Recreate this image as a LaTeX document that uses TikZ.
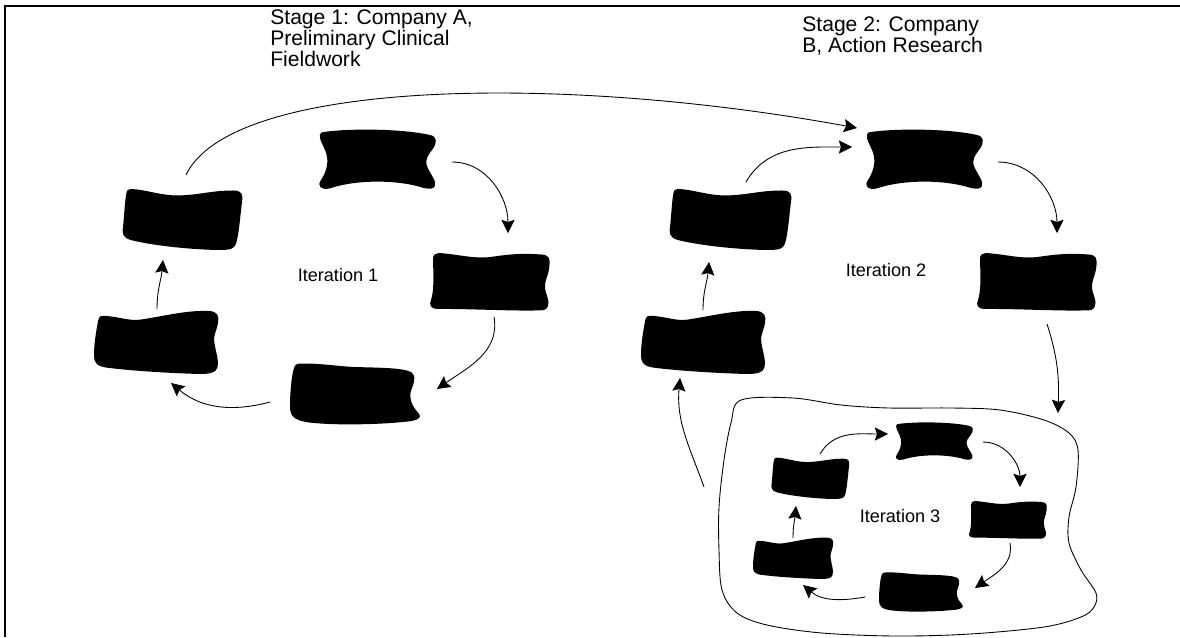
\documentclass[tikz,border=0pt]{standalone}
\usepackage{fontspec}
\setmainfont{Liberation Sans}
\usetikzlibrary{arrows.meta,calc}

\tikzset{
  blobbox/.style={inner sep=0pt,outer sep=0pt},
  flow/.style={-{Stealth[length=7.5pt,width=7.5pt,inset=1.2pt]},line width=0.5pt},
  stagetext/.style={anchor=north west,inner sep=0pt,align=left,font=\fontsize{12}{12}\selectfont},
  itertext/.style={inner sep=0pt,font=\fontsize{10.3}{12}\selectfont},
  % blob outlines, drawn in a unit box
  pinch/.pic={\fill (-0.9,0.9) .. controls (-0.5,1.02) and (0.4,1.02) .. (0.9,0.8)
      .. controls (1.02,0.75) and (1.02,0.55) .. (0.95,0.35)
      .. controls (0.88,0.15) and (0.8,0) .. (0.85,-0.25)
      .. controls (0.9,-0.5) and (1.02,-0.75) .. (0.98,-0.9)
      .. controls (0.96,-1) and (0.9,-1) .. (0.8,-0.97)
      .. controls (0.35,-0.68) and (-0.35,-0.68) .. (-0.8,-0.98)
      .. controls (-0.95,-1.05) and (-1.02,-0.9) .. (-0.95,-0.7)
      .. controls (-0.88,-0.5) and (-0.82,-0.2) .. (-0.85,0.1)
      .. controls (-0.88,0.4) and (-0.98,0.6) .. (-0.97,0.8)
      .. controls (-0.96,0.88) and (-0.94,0.9) .. (-0.9,0.9) -- cycle;},
  wave/.pic={\fill (-0.85,1) .. controls (-0.5,0.95) and (-0.3,0.8) .. (0,0.86)
      .. controls (0.3,0.95) and (0.5,1) .. (0.85,0.95)
      .. controls (1,0.93) and (1,0.8) .. (0.99,0.55)
      .. controls (0.98,0.2) and (0.88,0) .. (0.93,-0.35)
      .. controls (0.97,-0.6) and (1.02,-0.85) .. (0.9,-0.97)
      .. controls (0.5,-1.02) and (-0.3,-0.92) .. (-0.85,-0.93)
      .. controls (-1,-0.93) and (-1.02,-0.8) .. (-0.98,-0.6)
      .. controls (-0.92,-0.2) and (-0.95,0.5) .. (-0.95,0.8)
      .. controls (-0.95,0.95) and (-0.9,1) .. (-0.85,1) -- cycle;},
  skew/.pic={\fill (-0.85,0.97) .. controls (-0.6,0.95) and (-0.35,0.75) .. (-0.05,0.76)
      .. controls (0.3,0.78) and (0.5,0.92) .. (0.85,0.92)
      .. controls (1,0.92) and (1.02,0.8) .. (1,0.55)
      .. controls (0.97,0.1) and (0.95,-0.5) .. (0.9,-0.8)
      .. controls (0.87,-0.97) and (0.8,-1) .. (0.6,-1)
      .. controls (0.1,-0.98) and (-0.5,-0.85) .. (-0.85,-0.68)
      .. controls (-1,-0.6) and (-1,-0.45) .. (-0.98,-0.2)
      .. controls (-0.96,0.2) and (-0.95,0.6) .. (-0.93,0.8)
      .. controls (-0.92,0.93) and (-0.9,0.97) .. (-0.85,0.97) -- cycle;},
  flag/.pic={\fill (-0.85,0.82) .. controls (-0.6,0.8) and (-0.45,0.65) .. (-0.25,0.7)
      .. controls (0.1,0.8) and (0.5,1) .. (0.85,0.97)
      .. controls (1,0.96) and (1.02,0.8) .. (1,0.6)
      .. controls (0.98,0.35) and (0.92,0.2) .. (0.94,0)
      .. controls (0.96,-0.3) and (1.02,-0.55) .. (0.99,-0.8)
      .. controls (0.97,-0.97) and (0.85,-1) .. (0.7,-1)
      .. controls (0.2,-0.97) and (-0.4,-0.9) .. (-0.8,-0.8)
      .. controls (-0.98,-0.75) and (-1,-0.6) .. (-1,-0.4)
      .. controls (-1,0) and (-0.95,0.5) .. (-0.93,0.7)
      .. controls (-0.92,0.8) and (-0.9,0.82) .. (-0.85,0.82) -- cycle;},
  lump/.pic={\fill (-0.85,0.98) .. controls (-0.55,1) and (-0.3,0.9) .. (0,0.87)
      .. controls (0.35,0.85) and (0.75,0.85) .. (0.87,0.7)
      .. controls (0.95,0.6) and (0.9,0.3) .. (0.86,0.1)
      .. controls (0.83,-0.15) and (0.88,-0.4) .. (0.97,-0.6)
      .. controls (1.05,-0.78) and (0.95,-0.87) .. (0.75,-0.9)
      .. controls (0.4,-0.98) and (-0.3,-1.02) .. (-0.7,-0.92)
      .. controls (-0.95,-0.85) and (-1,-0.7) .. (-1,-0.4)
      .. controls (-1,0) and (-0.98,0.5) .. (-0.95,0.75)
      .. controls (-0.93,0.95) and (-0.9,0.98) .. (-0.85,0.98) -- cycle;}
}

% name, shape, x, y, half width, half height
\newcommand{\blob}[6]{%
  \node[blobbox,minimum width=0.04cm*#5,minimum height=0.04cm*#6] (#1) at (#3,-#4) {};
  \pic[xscale=#5,yscale=#6] at (#1) {#2};}

\begin{document}
\begin{tikzpicture}[x=0.02cm,y=0.02cm]
\useasboundingbox (0,0) rectangle (1180,-637);
\draw[line width=1.2pt] (5,-637) -- (5,-6) -- (1180,-6);

\node[stagetext] (stage1) at (270,-9.5) {Stage 1: Company A,\\Preliminary Clinical\\Fieldwork};
\node[stagetext] (stage2) at (802,-16.5) {Stage 2: Company\\B, Action Research};

% iteration 1
\blob{top1}{pinch}{377}{159}{59}{30}
\blob{rgt1}{wave}{490}{282}{60}{29}
\blob{bot1}{lump}{355}{394}{65}{31}
\blob{lfb1}{flag}{156}{342}{62}{32}
\blob{lft1}{skew}{182}{219}{60}{31}
\node[itertext] (iter1) at (338,-275) {Iteration 1};

% iteration 2
\blob{top2}{pinch}{924}{159}{59}{30}
\blob{rgt2}{wave}{1037}{282}{60}{29}
\blob{lft2}{skew}{730}{219}{61}{31}
\blob{lfb2}{flag}{703}{342}{62}{32}
\node[itertext] (iter2) at (886,-270) {Iteration 2};

% iteration 3, inside the cloud
\node[blobbox,minimum width=7.56cm,minimum height=4.8cm] (cloud3) at (907,-517) {};
\draw[line width=0.5pt] plot[smooth cycle,tension=0.55] coordinates {
  (741,-400) (793,-398) (841,-405) (889,-408) (952,-408) (1000,-410) (1044,-420)
  (1069,-433) (1078,-450) (1076,-487) (1069,-517) (1069,-543) (1081,-570)
  (1096,-593) (1094,-607) (1081,-617) (1044,-627) (970,-634) (896,-636)
  (822,-633) (767,-625) (737,-613) (722,-590) (719,-550) (719,-507)
  (724,-460) (731,-423)};
\blob{top3}{pinch}{934}{441}{39}{19}
\blob{rgt3}{wave}{1008}{520}{39}{19}
\blob{bot3}{lump}{921}{592}{42}{20}
\blob{lft3}{skew}{810}{478}{39}{21}
\blob{lfb3}{flag}{793}{558}{40}{21}
\node[itertext] (iter3) at (900,-516) {Iteration 3};

\draw[flow] ($(top1.east)+(16,-3)$) to[out=0,in=90] ($(rgt1.north)+(18,20)$);
\draw[flow] ($(rgt1.south)+(4,-6)$) to[out=-80,in=35] ($(bot1.east)+(17,5)$);
\draw[flow] ($(bot1.west)+(-20,-8)$) to[out=195,in=-40] ($(lfb1.south)+(15,-9)$);
\draw[flow] ($(lfb1.north)+(1,1)$) to[out=90,in=-95] ($(lft1.south)+(-19,-10)$);
\draw[flow] ($(lft1.north)+(4,13)$) .. controls +(45,95) and +(-300,55) .. ($(top2.north west)+(-8,1)$);

\draw[flow] ($(top2.east)+(15,-3)$) to[out=0,in=90] ($(rgt2.north)+(20,20)$);
\draw[flow] ($(rgt2.south)+(10,-13)$) to[out=-72,in=88] ($(cloud3.north east)+(-38,-16)$);
\draw[flow] ($(lft2.north)+(16,6)$) to[out=60,in=180] ($(top2.west)+(-13,12)$);
\draw[flow] (lfb2.north) to[out=90,in=-95] ($(lft2.south)+(-21,-12)$);
\draw[flow] ($(cloud3.west)+(-14,30)$) to[out=110,in=-95] ($(lfb2.south)+(-23,-4)$);

\draw[flow] ($(lft3.north)+(10,3)$) to[out=60,in=180] ($(top3.west)+(-7,7)$);
\draw[flow] ($(top3.east)+(10,-1)$) to[out=0,in=90] ($(rgt3.north)+(12,14)$);
\draw[flow] ($(rgt3.south)+(2,-4)$) to[out=-80,in=35] ($(bot3.east)+(12,4)$);
\draw[flow] ($(bot3.west)+(-14,-5)$) to[out=190,in=-40] ($(lfb3.south)+(10,-6)$);
\draw[flow] ($(lfb3.north)+(0,-1)$) to[out=90,in=-95] ($(lft3.south)+(-14,-7)$);
\end{tikzpicture}
\end{document}
